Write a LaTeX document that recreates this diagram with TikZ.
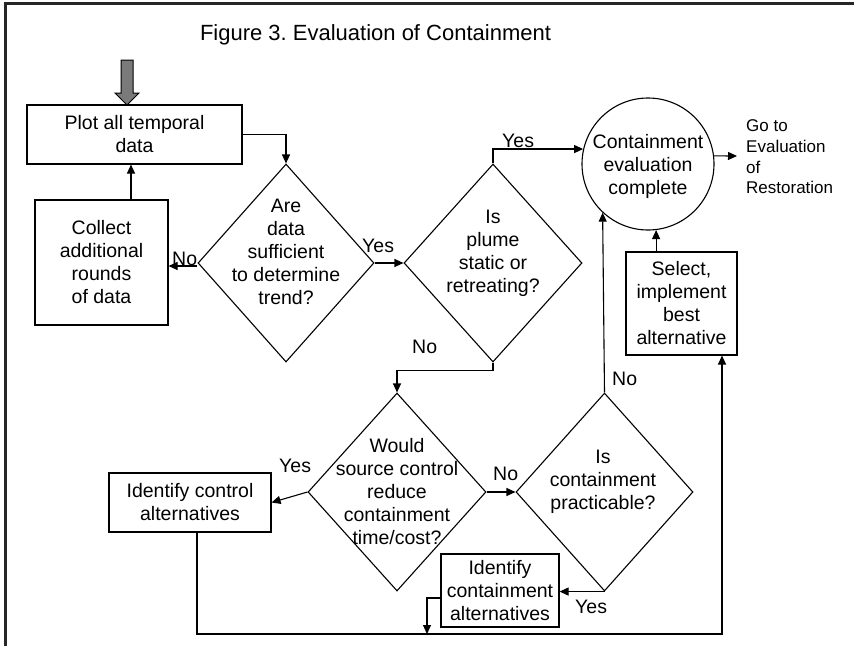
\documentclass[tikz,border=0pt]{standalone}
\usepackage{fontspec}
\setmainfont{Liberation Sans}
\usetikzlibrary{shapes.geometric,arrows.meta,calc}
\frenchspacing
\tikzset{
  base/.style={font=\fontsize{19.5}{23}\selectfont, align=center, inner sep=0pt},
  box/.style={base, draw, line width=1.1pt, rectangle},
  dia/.style={draw, line width=1.1pt, diamond, inner sep=0pt, minimum width=#1, minimum height=198pt},
  dtext/.style={base},
  lab/.style={font=\fontsize{19.5}{23}\selectfont, inner sep=0pt, anchor=base west},
  arr/.style={line width=1.1pt, -{Triangle[length=9pt,width=8pt]}},
  ln/.style={line width=1.1pt},
}
\begin{document}
\begin{tikzpicture}[x=1pt,y=-1pt]
\useasboundingbox (0,0) rectangle (854,646);
% frame
\draw[line width=2.3pt, black!85] (5.5,646) -- (5.5,3.5) -- (854,3.5);
% title
\node[font=\fontsize{22}{26}\selectfont, inner sep=0pt, anchor=base] (title) at (375.5,40) {Figure 3. Evaluation of Containment};
% start arrow
\draw[line width=1pt, fill=black!52] (121,60) -- (133,60) -- (133,93) -- (139,93) -- (127,105) -- (115,93) -- (121,93) -- cycle;
% nodes
\node[box, minimum width=215pt, minimum height=59pt] (plot) at (134.5,134.5) {Plot all temporal\\data};
\node[box, minimum width=133pt, minimum height=125pt] (collect) at (101.5,262.5) {Collect\\additional\\rounds\\of data};
\node[dia=176pt] (d1) at (286,263) {};
\node[dtext] (d1t) at (286,252) {Are\\data\\sufficient\\to determine\\trend?};
\node[dia=178pt] (d2) at (493,263) {};
\node[dtext] (d2t) at (493,253) {Is\\plume\\static or\\retreating?};
\node[base, draw, circle, line width=1.1pt, minimum size=132pt] (circ) at (648,164) {};
\node[base] (circt) at (648,166) {Containment\\evaluation\\complete};
\node[font=\fontsize{17}{20.7}\selectfont, align=left, inner sep=0pt, anchor=west] (goto) at (746,157) {Go to\\Evaluation\\of\\Restoration};
\node[box, minimum width=111pt, minimum height=103pt] (select) at (681.5,303.5) {Select,\\implement\\best\\alternative};
\node[dia=178pt] (d3) at (397,492) {};
\node[dtext] (d3t) at (397,491.5) {Would\\source control\\reduce\\containment\\time/cost?};
\node[dia=177pt] (d4) at (604.5,492) {};
\node[dtext] (d4t) at (603,482) {Is\\containment\\practicable?};
\node[box, minimum width=162pt, minimum height=59pt] (idctrl) at (190,502.5) {Identify control\\alternatives};
\node[box, minimum width=118pt, minimum height=73pt] (idcont) at (500,590.5) {Identify\\containment\\alternatives};
% coordinates
\coordinate (gend) at (737,156);
\coordinate (j1) at (427,634);
\coordinate (bline) at (722,634);
% connectors
\draw[arr] (plot.east) -| (d1.north);
\draw[arr] (collect.north -| 131,0) -- (plot.south -| 131,0);
\draw[arr] ($(d1.west)+(0,3)$) -- ($(d1.west -| collect.east)+(0,3)$);
\draw[arr] (d1.east) -- (d2.west);
\draw[arr] (d2.north) |- (circ.167);
\draw[arr] (circ.7) -- (gend);
\draw[arr] (select.north -| circ.-83) -- (circ.-83);
\draw[arr] (d4.north) -- (circ.-133);
\draw[arr] (d2.south) -- ++(0,8) -| (d3.north);
\draw[arr] (d3.west) -- (idctrl.east);
\draw[arr] (d3.east) -- (d4.west);
\draw[arr] (d4.south) -- (d4.south -| idcont.east);
\draw[arr] ($(idcont.west)+(0,7.5)$) -| (j1);
\draw[arr] ($(idctrl.south)+(7,0)$) |- (bline) -- (select.south -| bline);
% labels
\node[lab] (l1) at (172,265) {No};
\node[lab] (l2) at (362,252) {Yes};
\node[lab] (l3) at (502,147) {Yes};
\node[lab] (l4) at (412,353) {No};
\node[lab] (l5) at (279,472) {Yes};
\node[lab] (l6) at (493,480) {No};
\node[lab] (l7) at (612,385) {No};
\node[lab] (l8) at (575,613) {Yes};
\end{tikzpicture}
\end{document}
